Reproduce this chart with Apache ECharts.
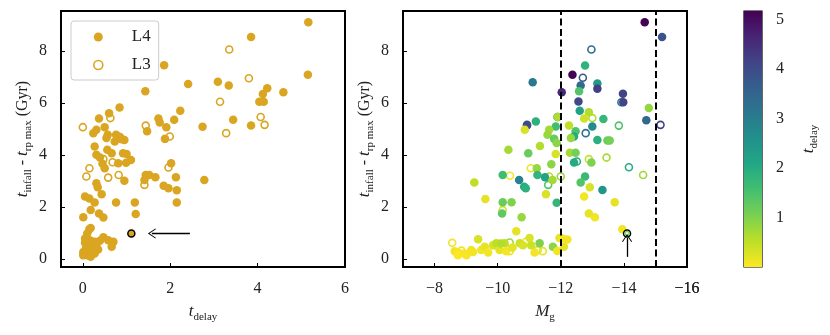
<!DOCTYPE html>
<html><head><meta charset="utf-8">
<script src="https://cdn.jsdelivr.net/npm/echarts@6/dist/echarts.min.js"></script>
<style>html,body{margin:0;padding:0;background:#fff}#c{width:830px;height:335px}</style>
</head><body><div id="c"></div>
<script>
// ---------- DATA ----------
// Left panel: [t_delay, t_infall - t_rp max]
const l4Left = [
 [5.16,9.12],[3.85,8.55],[1.86,7.46],[2.41,6.74],[3.09,6.83],[3.34,6.68],[5.15,7.10],[1.43,6.46],[4.59,6.42],
 [4.22,6.58],[4.12,6.36],[4.04,6.06],[4.14,6.06],[3.44,5.37],[2.74,5.10],[3.85,5.14],[2.78,3.05],
 [2.23,5.71],[2.09,5.37],[1.73,5.41],[1.76,5.26],[1.91,5.08],[1.88,4.63],[1.47,4.92],
 [2.02,3.69],[1.66,3.15],[1.44,3.24],[1.52,3.24],[1.41,3.05],[1.85,2.83],[1.96,2.73],[2.13,3.15],[2.15,2.65],[2.15,2.18],
 [1.19,2.18],[1.21,1.74],[0.76,2.18],
 [0.84,5.84],[0.60,5.62],[0.37,5.41],[0.31,4.98],[0.50,5.08],[0.24,4.85],[0.57,4.79],[0.76,4.79],[0.85,4.70],[0.95,4.59],
 [0.81,4.72],[0.73,4.53],[0.54,4.66],[0.89,4.62],
 [0.27,4.34],[0.31,4.02],[0.39,3.91],[0.56,4.21],[0.66,4.08],[0.45,3.67],[0.50,3.50],[0.81,3.69],[0.92,4.08],[1.00,4.05],
 [0.99,3.71],[1.10,3.82],[0.95,3.02],
 [0.31,2.92],[0.34,2.77],[0.43,2.50],[0.05,2.41],[0.15,2.34],[0.27,2.18],[0.18,1.89],[0.37,1.76],[0.47,1.60],[0.01,1.61],
 [0.15,1.15],[0.10,0.99],[0.05,0.80],[0.16,0.73],[0.27,0.67],[0.39,0.71],[0.47,0.84],[0.58,0.73],[0.70,0.67],[0.66,0.48],
 [0.08,0.48],[0.20,0.41],[0.31,0.48],[0.01,0.28],[0.10,0.15],[0.01,0.15],[0.24,0.28],[0.35,0.37],[0.12,0.60],[0.05,0.63],
 [0.27,0.22],[0.18,0.09],[0.07,0.37],[0.20,0.55],[0.10,0.30],[0.18,1.20]
];
const l3Left = [
 [3.35,8.07],[3.80,6.96],[3.14,6.06],[4.07,5.47],[4.16,5.17],[3.28,4.85],[1.44,5.14],[1.99,4.72],[1.96,3.53],[1.41,2.86],
 [0.00,5.08],[0.63,5.43],[0.68,3.73],[0.47,3.85],[0.82,3.24],[0.58,3.14],[0.15,3.50],[0.08,3.18],
 [0.10,0.63],[0.10,0.33],[0.20,0.31],[0.20,0.67],[0.20,0.35],[0.20,0.31],[0.20,0.54],[0.30,0.64]
];
const highlightLeft = [[1.11,0.99]];
const arrowLeft = [[2.45,0.99],[1.58,0.99]];

// Right panel: [M_g, t_infall - t_rp max, t_delay]
const l4Right = [
 [-14.66,9.12,5.16],[-15.21,8.55,3.85],[-12.77,7.45,1.85],[-12.37,7.10,5.15],[-13.16,6.76,2.41],[-12.63,6.68,3.34],
 [-13.16,6.56,4.22],[-11.11,6.81,3.10],[-12.03,6.42,4.59],[-12.58,6.46,1.43],[-13.97,6.37,4.12],[-13.98,6.04,4.14],
 [-12.56,6.07,4.04],[-14.79,5.82,0.84],[-14.71,5.35,3.44],[-12.60,5.71,2.23],[-12.89,5.65,0.60],[-12.74,5.41,0.37],
 [-13.35,5.39,1.75],[-13.00,5.11,2.74],[-13.16,4.59,1.91],[-13.48,4.57,1.20],[-13.55,4.57,1.10],[-12.47,4.92,1.46],
 [-12.42,4.72,2.00],[-12.32,4.66,0.80],[-12.26,5.14,0.49],[-11.90,5.47,0.63],[-11.84,5.11,1.60],[-11.63,4.98,0.70],
 [-11.58,4.79,0.80],[-11.79,4.63,1.20],[-11.87,4.47,0.90],[-11.21,5.30,1.90],[-10.93,5.14,4.00],[-10.86,4.98,0.30],
 [-11.34,4.36,0.60],[-10.97,4.08,1.20],[-10.34,4.21,0.70],[-11.84,4.05,0.30],[-12.29,4.10,0.70],[-12.47,4.10,1.10],
 [-12.42,3.72,2.00],[-12.97,3.72,1.00],[-11.24,3.50,0.80],[-11.26,3.24,1.80],[-11.50,3.15,2.20],[-11.74,3.05,0.70],
 [-11.70,3.65,0.90],[-10.68,3.05,2.90],[-10.84,2.79,2.00],[-10.89,2.73,1.90],[-10.16,3.24,1.60],[-9.26,2.95,0.50],
 [-9.61,2.32,0.20],[-10.16,2.19,1.20],[-10.44,2.19,1.00],[-10.14,1.76,1.30],[-10.76,1.61,0.80],[-11.53,2.50,0.30],
 [-11.87,2.17,1.80],[-12.77,3.18,1.70],[-12.63,2.95,1.40],[-12.92,2.77,0.30],[-12.74,2.41,0.10],[-13.32,2.66,2.50],
 [-13.71,2.19,0.20],[-12.89,1.76,0.20],[-13.08,1.61,0.10],[-13.95,1.15,0.10],
 [-8.64,0.31,0.10],[-8.75,0.26,0.05],[-9.01,0.15,0.05],[-9.22,0.28,0.10],[-9.38,0.77,0.30],[-9.48,0.35,0.10],
 [-9.59,0.48,0.20],[-9.70,0.26,0.10],[-9.85,0.54,0.30],[-9.96,0.61,0.50],[-10.06,0.35,0.20],[-10.22,0.61,0.50],
 [-10.27,0.31,0.10],[-10.59,1.08,0.20],[-10.70,0.61,0.40],[-10.80,0.54,0.30],[-11.01,0.82,0.30],[-11.06,0.54,0.40],
 [-11.17,0.26,0.10],[-11.33,0.61,1.00],[-11.75,0.48,0.90],[-11.96,0.82,0.20],[-12.05,0.80,0.10],[-12.21,0.76,0.10],
 [-12.10,0.48,0.20],[-11.89,0.32,0.10],[-10.47,0.45,0.20],[-10.10,0.60,0.60],[-9.16,0.35,0.10],[-8.95,0.22,0.05],
 [-8.74,0.15,0.00]
];
const l3Right = [
 [-12.97,8.07,3.35],[-12.70,6.98,3.80],[-13.92,6.04,3.14],[-15.16,5.17,4.16],[-13.00,5.43,0.63],[-13.84,5.14,1.44],
 [-12.79,4.85,3.28],[-12.51,3.76,1.99],[-12.89,3.85,0.47],[-13.45,3.91,0.68],[-11.90,5.47,4.07],[-10.93,5.17,3.90],
 [-11.05,3.50,0.15],[-11.63,3.18,0.58],[-11.60,2.86,1.41],[-12.00,3.18,0.82],[-10.39,3.21,0.08],[-14.16,3.54,1.96],
 [-14.61,3.24,0.75],[-10.16,1.89,0.30],[-10.38,0.64,0.80],[-8.56,0.63,0.10],[-8.85,0.33,0.10],[-10.38,0.31,0.20],
 [-10.90,0.67,0.20],[-11.27,0.35,0.20],[-11.43,0.31,0.20],[-9.89,0.54,0.20]
];
const highlightRight = [[-14.10,0.99,1.11]];
const arrowRight = [[-14.10,0.09],[-14.10,0.82]];
const dashedMg = [-12, -15];

const yTicks = [0,2,4,6,8];
const xTicksLeft = [0,2,4,6];
const xTicksRight = [-16,-14,-12,-10,-8];
const cbTicks = [1,2,3,4,5];
const TD_MAX = 5.17;

// ---------- STYLE ----------
const GOLD = '#daa520';
const FONT = 'Liberation Serif';
const VIRIDIS = ['#440154','#482475','#414487','#355f8d','#2a788e','#21918c','#22a884','#44bf70','#7ad151','#bddf26','#fde725'];
function hex2rgb(h){return [1,3,5].map(i=>parseInt(h.substr(i,2),16));}
function cmap(t){ // viridis_r
  let f = 1 - Math.max(0, Math.min(1, t / TD_MAX));
  let p = f * (VIRIDIS.length - 1), i = Math.min(VIRIDIS.length - 2, Math.floor(p)), r = p - i;
  let a = hex2rgb(VIRIDIS[i]), b = hex2rgb(VIRIDIS[i+1]);
  return 'rgb(' + a.map((v,k)=>Math.round(v + (b[k]-v)*r)).join(',') + ')';
}
const rich = {
  i: {fontFamily: FONT, fontStyle: 'italic', fontSize: 17, lineHeight: 22, verticalAlign: 'middle', color: '#222'},
  s: {fontFamily: FONT, fontSize: 11, lineHeight: 11, verticalAlign: 'bottom', color: '#222'},
  n: {fontFamily: FONT, fontSize: 16, lineHeight: 22, verticalAlign: 'middle', color: '#222'}
};
const chevron = 'path://M0,0 L6,10 L5,10.6 L0,2.2 L-5,10.6 L-6,10 Z';
const minusFmt = v => v < 0 ? '\u2212' + Math.abs(v) : String(v);
const tickStyle = {show: true, inside: true, length: 4, lineStyle: {color: '#000', width: 1}};
const labelStyle = {fontFamily: FONT, fontSize: 16, color: '#222', margin: 14};
const noLine = {show: false, onZero: false};
const SZ = 8.5;

const chart = echarts.init(document.getElementById('c'), null, {renderer: 'canvas'});
chart.setOption({
  animation: false,
  backgroundColor: '#fff',
  grid: [
    {left: 61, top: 11, width: 284, height: 256, show: true, borderColor: '#000', borderWidth: 2, backgroundColor: 'transparent'},
    {left: 403, top: 11, width: 284, height: 256, show: true, borderColor: '#000', borderWidth: 2, backgroundColor: 'transparent'},
    {left: 744, top: 11, width: 18, height: 256, show: true, borderColor: '#000', borderWidth: 1.2, backgroundColor: 'transparent'}
  ],
  legend: {
    left: 71, top: 21, orient: 'vertical',
    padding: [7, 8, 6, 22], itemGap: 10, itemWidth: 9, itemHeight: 9,
    borderColor: '#cccccc', borderWidth: 1, borderRadius: 3, backgroundColor: '#ffffff',
    textStyle: {fontFamily: FONT, fontSize: 17, color: '#222', lineHeight: 18, padding: [0,0,0,24]},
    data: [
      {name: 'L4', icon: 'circle', itemStyle: {color: GOLD, borderWidth: 0, opacity: 1}},
      {name: 'L3', icon: 'circle', itemStyle: {color: '#fff', borderColor: GOLD, borderWidth: 1.6, opacity: 1}}
    ]
  },
  xAxis: [
    {gridIndex: 0, type: 'value', min: -0.5, max: 6, position: 'bottom',
     axisLine: noLine, splitLine: {show: false},
     axisTick: Object.assign({customValues: xTicksLeft}, tickStyle),
     axisLabel: Object.assign({customValues: xTicksLeft}, labelStyle),
     name: '{i|t}{s|delay}', nameLocation: 'middle', nameGap: 34, nameTextStyle: {rich: rich}},
    {gridIndex: 1, type: 'value', min: -16, max: -7, inverse: true, position: 'bottom',
     axisLine: noLine, splitLine: {show: false},
     axisTick: Object.assign({customValues: xTicksRight}, tickStyle),
     axisLabel: Object.assign({customValues: xTicksRight, formatter: minusFmt, showMinLabel: true, showMaxLabel: true, hideOverlap: false}, labelStyle),
     name: '{i|M}{s|g}', nameLocation: 'middle', nameGap: 34, nameTextStyle: {rich: rich}},
    {gridIndex: 2, type: 'category', data: ['cb'], show: false}
  ],
  yAxis: [
    {gridIndex: 0, type: 'value', min: -0.3, max: 9.55, position: 'left',
     axisLine: noLine, splitLine: {show: false},
     axisTick: Object.assign({customValues: yTicks}, tickStyle),
     axisLabel: Object.assign({customValues: yTicks}, labelStyle),
     name: '{i|t}{s|infall}{n| - }{i|t}{s|rp max}{n| (Gyr)}', nameLocation: 'middle', nameRotate: 90, nameGap: 27,
     nameTextStyle: {rich: rich}},
    {gridIndex: 1, type: 'value', min: -0.3, max: 9.55, position: 'left',
     axisLine: noLine, splitLine: {show: false},
     axisTick: Object.assign({customValues: yTicks}, tickStyle),
     axisLabel: Object.assign({customValues: yTicks}, labelStyle),
     name: '{i|t}{s|infall}{n| - }{i|t}{s|rp max}{n| (Gyr)}', nameLocation: 'middle', nameRotate: 90, nameGap: 27,
     nameTextStyle: {rich: rich}},
    {gridIndex: 2, type: 'value', min: 0, max: TD_MAX, position: 'right',
     axisLine: noLine, splitLine: {show: false},
     axisTick: Object.assign({customValues: cbTicks}, tickStyle),
     axisLabel: Object.assign({customValues: cbTicks}, labelStyle),
     name: '{i|t}{s|delay}', nameLocation: 'middle', nameRotate: 90, nameGap: 36, nameTextStyle: {rich: rich}}
  ],
  series: [
    {name: 'L3', type: 'scatter', xAxisIndex: 0, yAxisIndex: 0, data: l3Left, symbolSize: SZ - 1.5,
     itemStyle: {color: 'rgba(0,0,0,0)', borderColor: GOLD, borderWidth: 1.6, opacity: 1}, silent: true},
    {name: 'L4', type: 'scatter', xAxisIndex: 0, yAxisIndex: 0, data: l4Left, symbolSize: SZ,
     itemStyle: {color: GOLD, opacity: 1}, silent: true},
    {name: 'hlLeft', type: 'scatter', xAxisIndex: 0, yAxisIndex: 0, data: highlightLeft, symbolSize: 7,
     itemStyle: {color: GOLD, borderColor: '#000', borderWidth: 1.5, opacity: 1}, silent: true,
     markLine: {silent: true, symbol: ['none', chevron], symbolSize: [10, 8], animation: false,
       lineStyle: {color: '#000', width: 1.3, type: 'solid'}, label: {show: false},
       data: [[{coord: arrowLeft[0]}, {coord: arrowLeft[1]}]]}},
    {name: 'L3r', type: 'scatter', xAxisIndex: 1, yAxisIndex: 1, symbolSize: SZ - 1.5,
     data: l3Right.map(d => ({value: d, itemStyle: {color: 'rgba(0,0,0,0)', borderColor: cmap(d[2]), borderWidth: 1.6, opacity: 1}})),
     silent: true},
    {name: 'L4r', type: 'scatter', xAxisIndex: 1, yAxisIndex: 1, symbolSize: SZ,
     data: l4Right.map(d => ({value: d, itemStyle: {color: cmap(d[2]), opacity: 1}})), silent: true,
     markLine: {silent: true, symbol: ['none', 'none'], animation: false, label: {show: false},
       lineStyle: {color: '#000', width: 2, type: [7, 3.5], opacity: 1},
       data: dashedMg.map(v => ({xAxis: v}))}},
    {name: 'hlRight', type: 'scatter', xAxisIndex: 1, yAxisIndex: 1, symbolSize: 7,
     data: highlightRight.map(d => ({value: d, itemStyle: {color: 'rgba(0,0,0,0)', borderColor: '#000', borderWidth: 1.5, opacity: 1}})),
     silent: true,
     markLine: {silent: true, symbol: ['none', chevron], symbolSize: [10, 8], animation: false,
       lineStyle: {color: '#000', width: 1.3, type: 'solid'}, label: {show: false},
       data: [[{coord: arrowRight[0]}, {coord: arrowRight[1]}]]}},
    {name: 'hlRightInner', type: 'scatter', xAxisIndex: 1, yAxisIndex: 1, symbolSize: 4,
     data: highlightRight.map(d => ({value: d, itemStyle: {color: 'rgba(0,0,0,0)', borderColor: cmap(d[2]), borderWidth: 1.3, opacity: 1}})),
     silent: true},
    {name: 'colorbar', type: 'bar', xAxisIndex: 2, yAxisIndex: 2, data: [TD_MAX], barWidth: '100%', silent: true,
     itemStyle: {color: new echarts.graphic.LinearGradient(0, 1, 0, 0,
        VIRIDIS.slice().reverse().map((c, i) => ({offset: i / (VIRIDIS.length - 1), color: c})))}}
  ]
});

// The end label of the inverted M_g axis (-16) is dropped by the library at the axis edge;
// place it through the axis scale so it still sits on its tick.
const edgeTick = xTicksRight[0];
const edgePx = chart.convertToPixel({xAxisIndex: 1}, edgeTick);
const gridBottom = chart.convertToPixel({yAxisIndex: 1}, -0.3);
chart.setOption({
  graphic: [{type: 'text', silent: true, x: edgePx, y: gridBottom + labelStyle.margin,
    style: {text: minusFmt(edgeTick), fill: '#222', font: '16px "Liberation Serif"', align: 'center', verticalAlign: 'top'}}]
});
</script></body></html>
